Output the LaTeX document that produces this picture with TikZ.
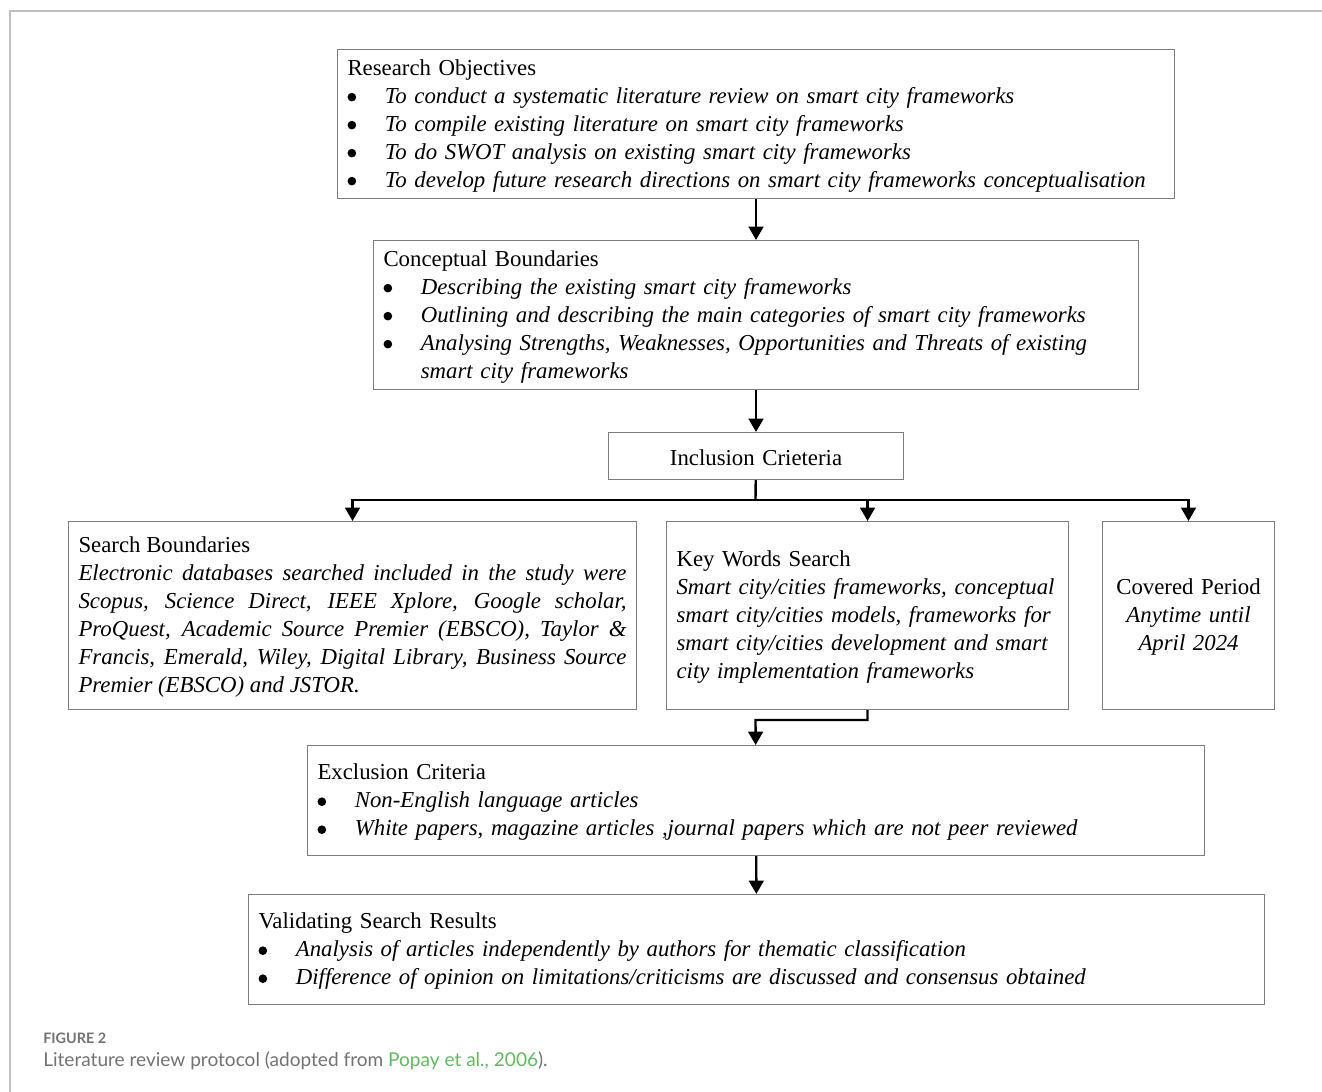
\documentclass[tikz,border=0pt]{standalone}
\usepackage{fontspec}
\setmainfont{Liberation Serif}
\newfontfamily\capfont{Lato}
\usetikzlibrary{arrows.meta}

\definecolor{boxgray}{RGB}{125,125,125}
\definecolor{framegray}{RGB}{192,192,192}
\definecolor{capgray}{RGB}{115,115,115}
\definecolor{capgreen}{RGB}{98,186,96}

\hyphenpenalty=10000
\exhyphenpenalty=10000

\newcommand{\dotmark}{\tikz[baseline=0pt]\fill (0.18em,0.27em) circle[radius=0.19em];}
\newcommand{\pitem}[1]{\par\noindent\makebox[28pt][l]{\dotmark}\parbox[t]{\dimexpr\hsize-28pt\relax}{\raggedright\itshape #1}}

\begin{document}
\begin{tikzpicture}[x=0.75pt,y=-0.75pt]

\useasboundingbox (0,0) rectangle (1322,1092);

\tikzstyle{stage} = [draw=boxgray, line width=0.8pt, inner xsep=7.5pt, inner ysep=2pt, anchor=north west, align=left, font=\fontsize{17.1}{21}\selectfont, execute at begin node={\rule{0pt}{14.6pt}}];
\tikzstyle{flow} = [line width=1.8pt, -{Triangle[length=10pt,width=11pt]}];

%page frame:
\draw[framegray, line width=1.2pt] (10,1092) -- (10,11) -- (1322,11);

%stages:
\node[stage, text width=612.75pt, minimum height=111.75pt] (obj) at (337,49) {Research Objectives
\pitem{To conduct a systematic literature review on smart city frameworks}
\pitem{To compile existing literature on smart city frameworks}
\pitem{To do SWOT analysis on existing smart city frameworks}
\pitem{To develop future research directions on smart city frameworks conceptualisation}};

\node[stage, text width=558.75pt, minimum height=111.75pt] (concept) at (373,240) {Conceptual Boundaries
\pitem{Describing the existing smart city frameworks}
\pitem{Outlining and describing the main categories of smart city frameworks}
\pitem{Analysing Strengths, Weaknesses, Opportunities and Threats of existing\\ smart city frameworks}};

\node[stage, text width=206.25pt, minimum height=35.25pt, align=center, execute at begin node={}] (incl) at (608,432) {Inclusion Crieteria};

\node[stage, text width=411pt, minimum height=141pt, align=justify] (search) at (68,521) {Search Boundaries\par
\textit{Electronic databases searched included in the study were\linebreak
Scopus, Science Direct, IEEE Xplore, Google scholar,\linebreak
ProQuest, Academic Source Premier (EBSCO), Taylor \&\linebreak
Francis, Emerald, Wiley, Digital Library, Business Source\linebreak
Premier (EBSCO) and JSTOR.}};

\node[stage, text width=286.5pt, minimum height=141pt] (keys) at (666,521) {Key Words Search\\
\textit{Smart city/cities frameworks, conceptual\\
smart city/cities models, frameworks for\\
smart city/cities development and smart\\
city implementation frameworks}};

\node[stage, text width=114pt, minimum height=141pt, align=center] (period) at (1102,521) {Covered Period\\
\textit{Anytime until\\ April 2024}};

\node[stage, text width=657.75pt, minimum height=82.5pt] (excl) at (307,745) {Exclusion Criteria
\pitem{Non-English language articles}
\pitem{White papers, magazine articles ,journal papers which are not peer reviewed}};

\node[stage, text width=747pt, minimum height=82.5pt] (valid) at (248,894) {Validating Search Results
\pitem{Analysis of articles independently by authors for thematic classification}
\pitem{Difference of opinion on limitations/criticisms are discussed and consensus obtained}};

%connectors:
\coordinate (split) at (755.5,500);
\coordinate (merge) at (755.5,720);

\draw[flow] (obj) -- (concept);
\draw[flow] (concept) -- (incl);
\draw[line width=1.8pt] (incl) -- (split);
\draw[flow] (split) -| (search);
\draw[flow] (split) -| (keys);
\draw[flow] (split) -| (period);
\draw[flow] (keys.south) |- (merge) -- (excl);
\draw[flow] (excl) -- (valid);

%caption:
\node[anchor=base west, inner sep=0pt, text=capgray, font=\capfont\bfseries\fontsize{10.8}{12}\selectfont] (fignum) at (43,1043) {FIGURE 2};
\node[anchor=base west, inner sep=0pt, text=capgray, font=\capfont\fontsize{14.3}{16}\selectfont] (caption) at (43,1066) {Literature review protocol (adopted from \textcolor{capgreen}{Popay et al., 2006}).};

\end{tikzpicture}
\end{document}
